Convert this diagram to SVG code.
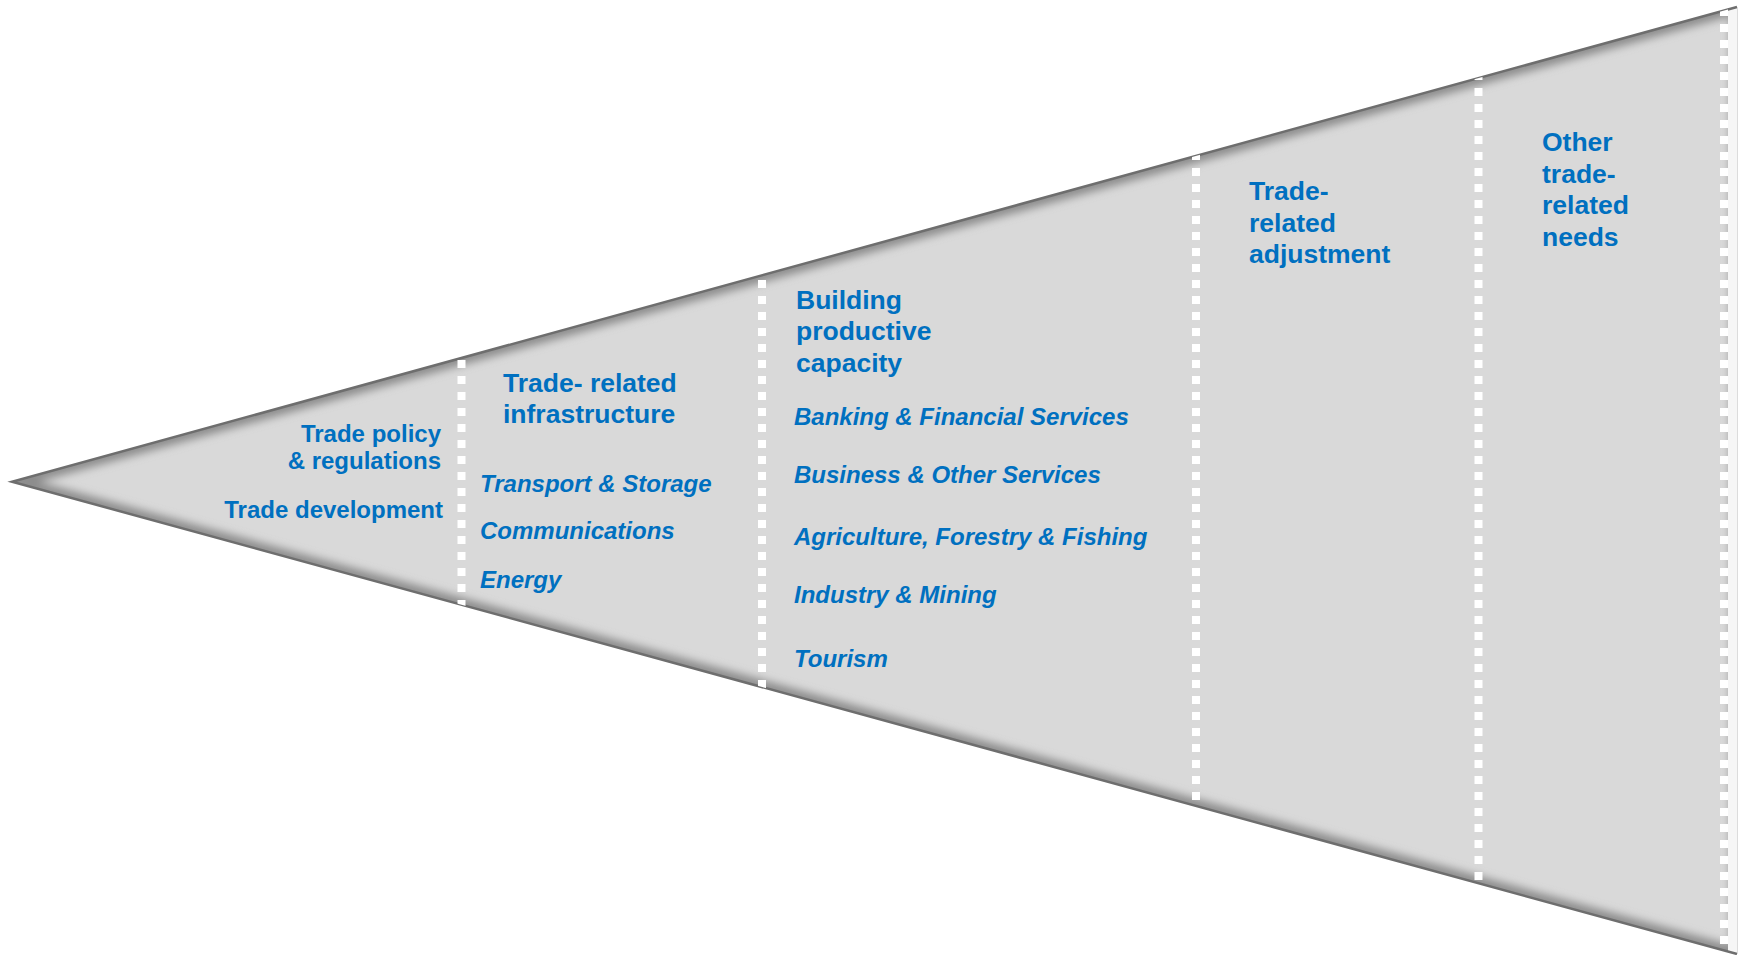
<svg xmlns="http://www.w3.org/2000/svg" width="1741" height="955" viewBox="0 0 1741 955">
  <style>
    .head { font-family: "Liberation Sans", Arial, sans-serif; font-weight: bold; font-size: 26.5px; fill: #0070C0; }
    .sub { font-family: "Liberation Sans", Arial, sans-serif; font-weight: bold; font-size: 24px; fill: #0070C0; }
    .item { font-family: "Liberation Sans", Arial, sans-serif; font-weight: bold; font-style: italic; font-size: 24px; fill: #0070C0; }
    .sep { stroke: #ffffff; stroke-width: 8; stroke-dasharray: 8 8; stroke-dashoffset: 8; fill: none; }
  </style>
  <defs>
    <clipPath id="tri">
      <polygon points="12,481.7 1737,7 1737,954"/>
    </clipPath>
    <filter id="blur" x="-5%" y="-5%" width="110%" height="110%">
      <feGaussianBlur stdDeviation="4"/>
    </filter>
  </defs>
  <rect width="1741" height="955" fill="#ffffff"/>
  <g id="funnel">
    <polygon points="12,481.7 1737,7 1737,954" fill="#d9d9d9"/>
    <g clip-path="url(#tri)">
      <polygon points="12,481.7 1737,7 1737,954" fill="none" stroke="#8c8c8c" stroke-width="14" filter="url(#blur)"/>
      <rect x="1728" y="0" width="10" height="955" fill="#f6f6f6"/>
    </g>
    <polyline points="1737,7 12,481.7 1737,954" fill="none" stroke="#6e6e6e" stroke-width="2.5"/>
    <line x1="1737.5" y1="7" x2="1737.5" y2="954" stroke="#dcdcdc" stroke-width="1"/>
  </g>
  <g id="separators" clip-path="url(#tri)">
    <line class="sep" x1="461.5" y1="0" x2="461.5" y2="955"/>
    <line class="sep" x1="762" y1="0" x2="762" y2="955"/>
    <line class="sep" x1="1196" y1="0" x2="1196" y2="955"/>
    <line class="sep" x1="1478.5" y1="0" x2="1478.5" y2="955"/>
    <line class="sep" x1="1724" y1="0" x2="1724" y2="955"/>
  </g>
  <g id="trade-policy">
    <text class="sub" text-anchor="end" x="441" y="442">Trade policy</text>
    <text class="sub" text-anchor="end" x="441" y="469">&amp; regulations</text>
    <text class="sub" text-anchor="end" x="443" y="518">Trade development</text>
  </g>
  <g id="infrastructure">
    <text class="head" x="503" y="392">Trade- related</text>
    <text class="head" x="503" y="423">infrastructure</text>
    <text class="item" x="480" y="492">Transport &amp; Storage</text>
    <text class="item" x="480" y="539">Communications</text>
    <text class="item" x="480" y="587.5">Energy</text>
  </g>
  <g id="productive-capacity">
    <text class="head" x="796" y="308.5">Building</text>
    <text class="head" x="796" y="340">productive</text>
    <text class="head" x="796" y="371.5">capacity</text>
    <text class="item" x="794" y="425">Banking &amp; Financial Services</text>
    <text class="item" x="794" y="482.5">Business &amp; Other Services</text>
    <text class="item" x="794" y="545">Agriculture, Forestry &amp; Fishing</text>
    <text class="item" x="794" y="603">Industry &amp; Mining</text>
    <text class="item" x="794" y="667">Tourism</text>
  </g>
  <g id="adjustment">
    <text class="head" x="1249" y="200">Trade-</text>
    <text class="head" x="1249" y="231.5">related</text>
    <text class="head" x="1249" y="263">adjustment</text>
  </g>
  <g id="other-needs">
    <text class="head" x="1542" y="151">Other</text>
    <text class="head" x="1542" y="182.5">trade-</text>
    <text class="head" x="1542" y="214">related</text>
    <text class="head" x="1542" y="245.5">needs</text>
  </g>
</svg>
